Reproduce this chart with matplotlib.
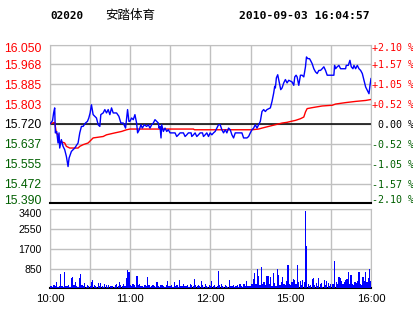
import matplotlib
matplotlib.use('Agg')
import matplotlib.pyplot as plt
from matplotlib.transforms import ScaledTranslation

code = "02020"
name = "安踏体育"
stamp = "2010-09-03 16:04:57"
prev_close = 15.72
price_ticks = [15.390, 15.472, 15.555, 15.637, 15.720, 15.803, 15.885, 15.968, 16.050]
pct_labels = ["-2.10 %", "-1.57 %", "-1.05 %", "-0.52 %", " 0.00 %",
              "+0.52 %", "+1.05 %", "+1.57 %", "+2.10 %"]
vol_ticks = [850, 1700, 2550, 3400]
time_labels = ["10:00", "11:00", "12:00", "15:00", "16:00"]
time_label_min = [0, 60, 120, 180, 240]

# price trace (trading minute index, price)
price_t = [0, 1.9, 2.7, 3.5, 4.0, 5.0, 6.0, 6.75, 7.25, 8.5, 9.75, 11, 12.25, 13.5, 14.25, 16, 18.5, 21,
           22.25, 23.5, 24.75, 26.5, 28, 29, 30, 31, 32.25, 33.5, 34.75, 36, 37.25, 38, 39.75, 41, 42.25,
           43.5, 44.75, 46, 47.25, 49.75, 51.5, 53, 54.75, 56.5, 58, 59, 59.75, 61, 62.25, 63.5, 64.75,
           65.5, 66.75, 68, 69, 70.5, 72.25, 73.5, 74.75, 76, 77.25, 78.5, 79.75, 81, 81.5, 82.25, 83,
           83.5, 84.75, 86, 87.25, 88.5, 89.75, 93.5, 94.75, 96, 97.25, 99.75, 101, 102.25, 103.5, 105.5,
           106, 107.25, 108.5, 109.75, 111, 112.25, 114, 114.75, 116, 117.25, 118.5, 119.75, 121, 122.25,
           123.5, 124.75, 126, 127.25, 128.5, 129.75, 131, 132.25, 133.5, 134.75, 136, 137.25, 138.5,
           143.5, 144.75, 147.25, 148.5, 149.75, 151, 152.25, 153.5, 154.75, 156, 157.25, 158.5, 159.75,
           161, 162.25, 164.75, 166, 167.25, 168, 168.5, 169.25, 170.25, 171, 171.75, 172.5, 173.5,
           174.75, 176, 177.25, 178.5, 181, 182.25, 183, 184, 184.75, 186, 187.25, 188.5, 189.75, 191,
           191.75, 192.75, 194, 194.75, 196, 197.25, 198.5, 199.75, 201, 202.25, 203.5, 204.75, 206,
           207.25, 212.25, 212.75, 213.5, 214.75, 216, 217.25, 221, 221.5, 223, 224.25, 225.25, 226.5,
           227.25, 228.5, 229.75, 231, 232.25, 233.5, 234.75, 236, 237.25, 238.5, 239.25, 240]
price_v = [15.720, 15.734, 15.766, 15.787, 15.683, 15.689, 15.641, 15.683, 15.620, 15.655, 15.627, 15.613,
           15.585, 15.543, 15.578, 15.606, 15.620, 15.641, 15.683, 15.710, 15.710, 15.724, 15.731, 15.745,
           15.766, 15.800, 15.759, 15.752, 15.745, 15.717, 15.710, 15.759, 15.766, 15.780, 15.766, 15.780,
           15.759, 15.787, 15.766, 15.766, 15.752, 15.724, 15.724, 15.703, 15.780, 15.731, 15.731, 15.745,
           15.738, 15.759, 15.724, 15.683, 15.696, 15.717, 15.703, 15.717, 15.710, 15.717, 15.703, 15.717,
           15.724, 15.738, 15.731, 15.724, 15.703, 15.710, 15.662, 15.717, 15.689, 15.703, 15.689, 15.696,
           15.683, 15.683, 15.668, 15.675, 15.683, 15.683, 15.668, 15.675, 15.683, 15.683, 15.668, 15.675,
           15.683, 15.668, 15.675, 15.683, 15.683, 15.668, 15.675, 15.683, 15.668, 15.683, 15.675, 15.683,
           15.689, 15.703, 15.717, 15.717, 15.696, 15.683, 15.696, 15.683, 15.703, 15.696, 15.675, 15.662,
           15.683, 15.683, 15.662, 15.662, 15.668, 15.683, 15.696, 15.703, 15.717, 15.703, 15.717, 15.731,
           15.772, 15.780, 15.772, 15.780, 15.787, 15.814, 15.849, 15.877, 15.870, 15.912, 15.925, 15.905,
           15.884, 15.863, 15.870, 15.891, 15.905, 15.891, 15.902, 15.895, 15.881, 15.916, 15.923, 15.916,
           15.881, 15.923, 15.923, 15.916, 15.958, 15.999, 15.992, 15.992, 15.985, 15.971, 15.950, 15.937,
           15.930, 15.943, 15.943, 15.950, 15.958, 15.943, 15.923, 15.923, 15.964, 15.950, 15.958, 15.964,
           15.950, 15.950, 15.964, 15.964, 15.985, 15.958, 15.950, 15.964, 15.950, 15.964, 15.950, 15.943,
           15.930, 15.902, 15.874, 15.860, 15.846, 15.881, 15.909]

# average price trace
avg_t = [0, 3.5, 4, 4.75, 6, 7.25, 11, 12.25, 14.75, 21, 22.25, 24.75, 28.5, 29.75, 32.25, 39.75, 42.25,
         48.5, 53.5, 57.25, 59.75, 107.25, 108, 151, 156, 158.5, 163.5, 168.5, 173.5, 177.25, 181,
         183.5, 187.25, 189.75, 191, 192.25, 196, 203.5, 211, 213.5, 221, 228.5, 236, 240]
avg_v = [15.721, 15.727, 15.710, 15.683, 15.675, 15.648, 15.641, 15.627, 15.620, 15.620, 15.627, 15.634,
         15.641, 15.648, 15.662, 15.668, 15.675, 15.683, 15.689, 15.696, 15.699, 15.699, 15.696, 15.696,
         15.699, 15.703, 15.710, 15.717, 15.724, 15.727, 15.732, 15.735, 15.742, 15.749, 15.770, 15.784,
         15.788, 15.795, 15.798, 15.803, 15.809, 15.814, 15.818, 15.822]

# volume per trading minute
volume = [80, 120, 60, 150, 90, 260, 70, 110, 620, 90,
          60, 700, 80, 100, 140, 70, 460, 490, 130, 260,
          90, 60, 460, 620, 150, 80, 215, 70, 130, 90,
          110, 290, 340, 150, 90, 60, 215, 100, 230, 120,
          70, 180, 130, 60, 150, 100, 80, 120, 60, 140,
          190, 90, 290, 150, 100, 200, 80, 445, 790, 715,
          150, 90, 200, 130, 60, 530, 150, 170, 80, 120,
          60, 140, 90, 490, 150, 70, 110, 160, 90, 60,
          260, 100, 60, 150, 130, 80, 70, 140, 315, 90,
          110, 160, 70, 290, 100, 150, 60, 345, 120, 80,
          170, 90, 110, 150, 60, 200, 130, 90, 400, 150,
          80, 160, 100, 315, 140, 70, 170, 100, 60, 130,
          100, 315, 80, 150, 60, 110, 745, 130, 200, 90,
          70, 150, 120, 60, 345, 100, 80, 150, 60, 110,
          130, 70, 170, 90, 60, 200, 120, 315, 80, 100,
          110, 200, 400, 660, 180, 830, 545, 150, 920, 200,
          260, 140, 545, 515, 180, 475, 120, 660, 240, 100,
          830, 575, 160, 250, 490, 180, 140, 300, 1000, 200,
          150, 260, 400, 345, 180, 1000, 260, 300, 150, 360,
          250, 3330, 1840, 200, 100, 160, 400, 430, 130, 240,
          80, 430, 170, 240, 60, 360, 150, 330, 220, 120,
          200, 170, 200, 1180, 260, 200, 500, 440, 315, 200,
          260, 360, 400, 700, 180, 575, 200, 150, 280, 240,
          300, 700, 200, 160, 480, 300, 700, 250, 450, 830, 330]

RED = '#ff0000'
GREEN = '#005f00'
BLUE = '#0000ff'
GRID = '#c0c0c0'

W, H = 414, 314
fig = plt.figure(figsize=(W / 100, H / 100), dpi=100)
fig.patch.set_facecolor('white')

def frac(l, t, r, b):
    return [l / W, 1 - b / H, (r - l) / W, (b - t) / H]

ax = fig.add_axes(frac(50, 44.7, 371, 203.3))
axv = fig.add_axes(frac(50, 209.3, 371, 288.3))

def px(n):
    return ScaledTranslation(0, n / 100, fig.dpi_scale_trans)

# ---- price panel ----
ax.set_xlim(0, 240)
ax.set_ylim(price_ticks[0], price_ticks[-1])
ax.set_xticks(range(0, 241, 30))
ax.set_yticks(price_ticks)
ax.grid(True, color=GRID, linewidth=1.0)
ax.set_axisbelow(True)
ax.tick_params(axis='x', length=0, labelbottom=False)
ax.tick_params(axis='y', length=0, pad=6)
ax.set_yticklabels([f"{v:.3f}" for v in price_ticks], fontfamily='Liberation Sans', fontsize=8.7)
for v, lab in zip(price_ticks, ax.get_yticklabels()):
    lab.set_color(RED if v > prev_close + 1e-9 else (GREEN if v < prev_close - 1e-9 else 'black'))
for sp in ax.spines.values():
    sp.set_color(GRID)
ax.spines['bottom'].set_color('black')
ax.spines['bottom'].set_linewidth(1.5)
ax.axhline(prev_close, color='black', linewidth=1.1, zorder=2)
ax.plot(avg_t, avg_v, color=RED, linewidth=1.0, zorder=3)
ax.plot(price_t, price_v, color=BLUE, linewidth=1.0, zorder=4)

ax2 = ax.twinx()
ax2.set_ylim(price_ticks[0], price_ticks[-1])
ax2.set_yticks(price_ticks)
ax2.set_yticklabels(pct_labels, fontfamily='DejaVu Sans Mono', fontsize=7.2)
ax2.tick_params(axis='y', length=0, pad=1)
for lab in ax2.get_yticklabels():
    t = lab.get_text()
    lab.set_color(RED if t.startswith('+') else (GREEN if t.startswith('-') else 'black'))
for sp in ax2.spines.values():
    sp.set_visible(False)

for a in (ax, ax2):
    labs = a.get_yticklabels()
    labs[0].set_transform(labs[0].get_transform() + px(4))
    labs[-1].set_transform(labs[-1].get_transform() + px(-2.6))

# ---- volume panel ----
axv.bar(range(len(volume)), volume, width=0.9, color=BLUE, linewidth=0, zorder=3)
axv.set_xlim(0, 240)
axv.set_ylim(0, vol_ticks[-1])
axv.set_yticks([0] + vol_ticks)
axv.set_yticklabels([''] + [str(v) for v in vol_ticks], fontfamily='Liberation Sans', fontsize=7.6)
axv.set_xticks(range(0, 241, 30))
xl = []
for m in range(0, 241, 30):
    xl.append(time_labels[time_label_min.index(m)] if m in time_label_min else '')
axv.set_xticklabels(xl, fontfamily='Liberation Sans', fontsize=8.2)
axv.grid(True, color=GRID, linewidth=1.0)
axv.set_axisbelow(True)
axv.tick_params(axis='both', length=0)
axv.tick_params(axis='y', pad=6)
axv.tick_params(axis='x', pad=4)
for sp in axv.spines.values():
    sp.set_color(GRID)
axv.spines['bottom'].set_color('black')
axv.spines['bottom'].set_linewidth(1.5)
vl = axv.get_yticklabels()
vl[-1].set_transform(vl[-1].get_transform() + px(-4))

# ---- title ----
fig.text(50 / W, 1 - 16 / H, code, fontfamily='DejaVu Sans Mono', fontweight='bold', fontsize=7.9,
         va='center', ha='left')
fig.text(105 / W, 1 - 16 / H, name, fontfamily=['Noto Sans CJK SC', 'DejaVu Sans'], fontsize=9,
         va='center', ha='left')
fig.text(370 / W, 1 - 16 / H, stamp, fontfamily='DejaVu Sans Mono', fontweight='bold', fontsize=8.2,
         va='center', ha='right')

fig.savefig('out.png', dpi=100)
